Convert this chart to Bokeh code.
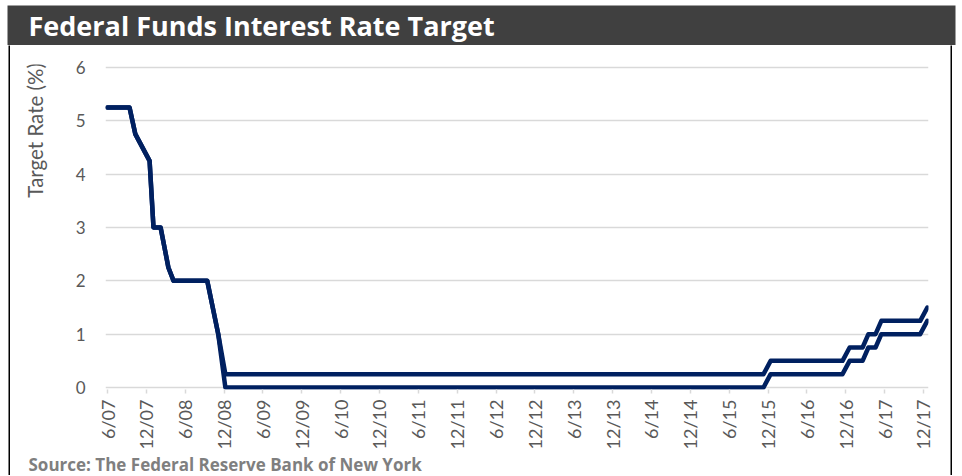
import math
from bokeh.plotting import figure
from bokeh.layouts import column, row
from bokeh.models import Range1d, FixedTicker
from bokeh.core.properties import value
from bokeh.embed import file_html
from bokeh.resources import INLINE

# ---------------- data ----------------
title_text = "Federal Funds Interest Rate Target"
source_text = "Source:  The Federal Reserve Bank of New York"
y_label = "Target Rate (%)"
tick_labels = ["6/07", "12/07", "6/08", "12/08", "6/09", "12/09", "6/10", "12/10",
               "6/11", "12/11", "6/12", "12/12", "6/13", "12/13", "6/14", "12/14",
               "6/15", "12/15", "6/16", "12/16", "6/17", "12/17"]
y_ticks = [0, 1, 2, 3, 4, 5, 6]
# months since June 2007
months = [0, 3.4, 4.3, 6.5, 7.1, 8.2, 9.4, 10.2, 15.4, 17.1, 18.2,
          101.3, 102.4, 113.5, 114.6, 116.6, 117.5, 118.6, 119.5, 125.5, 126.6]
upper = [5.25, 5.25, 4.75, 4.25, 3.0, 3.0, 2.25, 2.0, 2.0, 1.0, 0.25,
         0.25, 0.5, 0.5, 0.75, 0.75, 1.0, 1.0, 1.25, 1.25, 1.5]
lower = [5.25, 5.25, 4.75, 4.25, 3.0, 3.0, 2.25, 2.0, 2.0, 1.0, 0.0,
         0.0, 0.25, 0.25, 0.5, 0.5, 0.75, 0.75, 1.0, 1.0, 1.25]

FONT = "Lato"
NAVY = "#002060"
GRID = "#d9d9d9"
TXT = "#595959"


def bare(width, height, fill, **kw):
    f = figure(width=width, height=height, output_backend="svg", toolbar_location=None,
               x_axis_location=None, y_axis_location=None, title_location=None,
               min_border=0, background_fill_color=fill, border_fill_color=fill, **kw)
    f.outline_line_color = None
    f.grid.visible = False
    return f


# ---------------- title strip (data units = pixels, y downwards) ----------------
tf = bare(962, 45, "white", x_range=Range1d(0, 962), y_range=Range1d(45, 0))
tf.quad(left=[7], right=[955], top=[5], bottom=[45], fill_color="#404040", line_color=None)
tf.text(x=[28], y=[25], text=[title_text], text_font=value("Open Sans"),
        text_font_style="bold", text_font_size="27px", text_color="white",
        text_baseline="middle", text_align="left")

# ---------------- side borders / spacers ----------------
sp_left = bare(8, 430, "white")
lb = bare(2, 430, "black")
rb = bare(2, 430, "black")
sp_right = bare(8, 430, "white")

# ---------------- y-axis title strip ----------------
ylab = bare(45, 407, "white", x_range=Range1d(0, 45), y_range=Range1d(407, 0))
ylab.text(x=[24.5], y=[82.5], text=[y_label], angle=math.pi / 2,
          text_font=value(FONT), text_font_size="20.5px", text_color=TXT,
          text_align="center", text_baseline="middle")

# ---------------- source strip ----------------
src = bare(940, 23, "white", x_range=Range1d(0, 940), y_range=Range1d(23, 0))
src.text(x=[18], y=[12], text=[source_text], text_font=value("Open Sans"),
         text_font_style="bold", text_font_size="17px", text_color="#7f7f7f",
         text_align="left", text_baseline="middle")

# ---------------- main chart ----------------
p = figure(width=895, height=407, title_location=None,
           x_range=Range1d(-0.31, 126.78), y_range=Range1d(-0.0375, 6.056),
           output_backend="svg", toolbar_location=None,
           min_border_left=50, min_border_right=22, min_border_top=19, min_border_bottom=63,
           background_fill_color="white", border_fill_color="white")
p.outline_line_color = None
p.xgrid.visible = False
p.ygrid.ticker = FixedTicker(ticks=y_ticks)
p.ygrid.grid_line_color = GRID
p.ygrid.grid_line_width = 1.5

p.yaxis.ticker = FixedTicker(ticks=y_ticks)
p.yaxis.axis_line_color = None
p.yaxis.major_tick_line_color = None
p.yaxis.minor_tick_line_color = None
p.yaxis.major_label_standoff = 14
p.yaxis.major_label_text_font = FONT
p.yaxis.major_label_text_font_size = "17px"
p.yaxis.major_label_text_color = TXT

tick_pos = [6 * i for i in range(len(tick_labels))]
p.xaxis.ticker = FixedTicker(ticks=tick_pos)
p.xaxis.major_label_overrides = {t: l for t, l in zip(tick_pos, tick_labels)}
p.xaxis.major_label_orientation = math.pi / 2
p.xaxis.axis_line_color = None
p.xaxis.major_tick_line_color = GRID
p.xaxis.major_tick_line_width = 1.5
p.xaxis.major_tick_out = 4
p.xaxis.major_tick_in = 0
p.xaxis.minor_tick_line_color = None
p.xaxis.major_label_standoff = 6
p.xaxis.major_label_text_font = FONT
p.xaxis.major_label_text_font_size = "18px"
p.xaxis.major_label_text_color = TXT

p.line(months, lower, line_color=NAVY, line_width=4.5, line_join="round", line_cap="round")
p.line(months, upper, line_color=NAVY, line_width=4.5, line_join="round", line_cap="round")

inner = column(row(ylab, p), src)
layout = column(tf, row(sp_left, lb, inner, rb, sp_right))

open("out.html", "w").write(file_html(layout, INLINE))
